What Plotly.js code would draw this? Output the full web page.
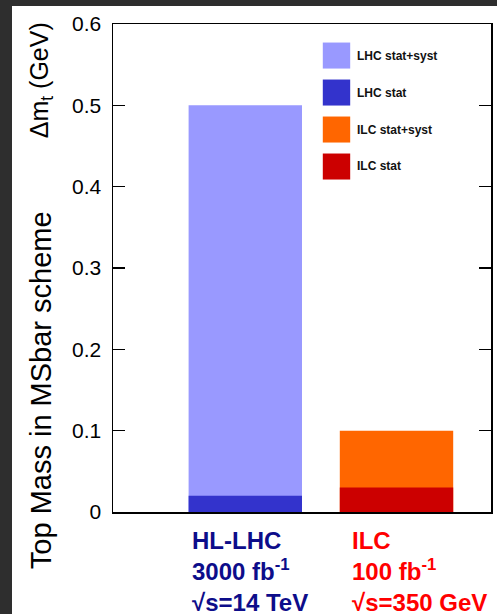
<!DOCTYPE html>
<html>
<head>
<meta charset="utf-8">
<script src="https://cdn.plot.ly/plotly-3.0.1.min.js"></script>
<style>
html,body{margin:0;padding:0;background:#2e2e2e;width:497px;height:614px;overflow:hidden;}
#chart{position:absolute;left:12px;top:6px;width:485px;height:608px;}
</style>
</head>
<body>
<div id="chart"></div>
<script>
// ---- data ----
const categories = ["HL-LHC", "ILC"];
const statSystValues = [0.5, 0.1];
const statValues = [0.02, 0.03];
const categoryLabels = [
  "HL-LHC<br>3000 fb<sup>-1</sup><br>√s=14 TeV",
  "ILC<br>100 fb<sup>-1</sup><br>√s=350 GeV"
];
const legendLabels = ["LHC stat+syst", "LHC stat", "ILC stat+syst", "ILC stat"];
const yTickValues = [0, 0.1, 0.2, 0.3, 0.4, 0.5, 0.6];

// ---- styles ----
const statSystColors = ["#9999ff", "#ff6600"];
const statColors = ["#3333cc", "#cc0000"];
const legendColors = ["#9999ff", "#3333cc", "#ff6600", "#cc0000"];
const labelColors = ["#0d0d8a", "#ff0000"];
const labelShifts = [-55, -47];
const FONT = "Liberation Sans, Arial, Helvetica, sans-serif";

const traces = [
  {type: "bar", x: categories, y: statSystValues, width: 0.75,
   marker: {color: statSystColors, line: {width: 0}}, showlegend: false, hoverinfo: "none"},
  {type: "bar", x: categories, y: statValues, width: 0.75,
   marker: {color: statColors, line: {width: 0}}, showlegend: false, hoverinfo: "none"}
];

const shapes = [];
const annotations = [];
// legend (drawn manually with big square swatches)
legendLabels.forEach((lab, i) => {
  const y0 = 0.962 - i * 0.0758;
  shapes.push({type: "rect", xref: "paper", yref: "paper",
    x0: 0.555, x1: 0.6275, y0: y0 - 0.0533, y1: y0,
    fillcolor: legendColors[i], line: {width: 0}});
  annotations.push({xref: "paper", yref: "paper", x: 0.641, y: y0 - 0.0266,
    xanchor: "left", yanchor: "middle", showarrow: false, text: "<b>" + lab + "</b>",
    font: {family: FONT, size: 12, color: "#111111"}});
});
// category labels under the axis
categories.forEach((c, i) => {
  annotations.push({xref: "x", yref: "paper", x: c, y: 0, xanchor: "left", yanchor: "top",
    xshift: labelShifts[i], yshift: -13, align: "left", showarrow: false,
    text: "<b>" + categoryLabels[i] + "</b>",
    font: {family: FONT, size: 24, color: labelColors[i]}});
});
// y-axis title (two parts)
annotations.push({xref: "paper", yref: "paper", x: -0.19, y: 0.25, textangle: -90,
  xanchor: "center", yanchor: "middle", showarrow: false,
  text: "Top Mass in MSbar scheme", font: {family: FONT, size: 29, color: "#000"}});
annotations.push({xref: "paper", yref: "paper", x: -0.19, y: 0.885, textangle: -90,
  xanchor: "center", yanchor: "middle", showarrow: false,
  text: "Δm<sub>t</sub> (GeV)", font: {family: FONT, size: 25, color: "#000"}});

const layout = {
  width: 485, height: 608,
  margin: {l: 101, r: 6, t: 18, b: 102, pad: 0},
  paper_bgcolor: "#ffffff", plot_bgcolor: "#ffffff",
  barmode: "overlay",
  font: {family: FONT, color: "#000"},
  xaxis: {type: "category", range: [-0.875, 1.625], showticklabels: false,
    ticks: "", showgrid: false, zeroline: false,
    showline: true, linecolor: "#000", linewidth: 1.5, mirror: true},
  yaxis: {range: [0, 0.6], tickvals: yTickValues, ticks: "inside", ticklen: 12,
    tickwidth: 1.5, tickcolor: "#000", showgrid: false, zeroline: false,
    showline: true, linecolor: "#000", linewidth: 1.5, mirror: "ticks",
    ticklabelstandoff: 6,
    tickfont: {family: FONT, size: 21, color: "#000"}},
  shapes: shapes,
  annotations: annotations
};

Plotly.newPlot("chart", traces, layout, {displayModeBar: false, staticPlot: true});
</script>
</body>
</html>
